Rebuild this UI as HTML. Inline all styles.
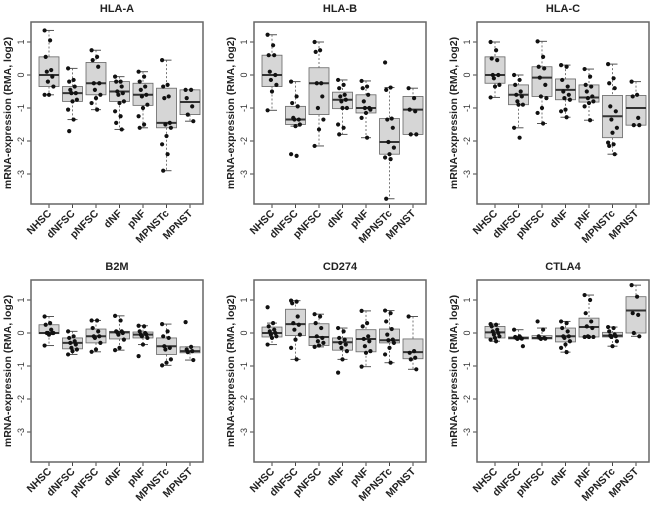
<!DOCTYPE html>
<html><head><meta charset="utf-8"><style>
body{margin:0;background:#fff;}
svg{display:block;font-family:"Liberation Sans",sans-serif;}
</style></head><body>
<svg id="fig" width="650" height="518" viewBox="0 0 650 518"></svg>
<script>
const categories=["NHSC","dNFSC","pNFSC","dNF","pNF","MPNSTc","MPNST"];
const genes=["HLA-A","HLA-B","HLA-C","B2M","CD274","CTLA4"];
const yTicks=[-3,-2,-1,0,1];
const statsHLAA=[[-0.6,-0.35,0,0.55,1.35],[-1.35,-0.8,-0.55,-0.35,0.2],[-1.05,-0.6,-0.25,0.38,0.75],[-1.65,-0.8,-0.5,-0.2,-0.05],[-1.6,-0.92,-0.6,-0.25,0.1],[-2.9,-1.6,-1.45,-0.4,0.45],[-1.4,-1.2,-0.82,-0.45,-0.45]];
const statsHLAB=[[-1.07,-0.35,0,0.6,1.22],[-1.55,-1.5,-1.35,-0.95,-0.2],[-2.15,-1.2,-0.25,0.22,1.0],[-1.8,-1.02,-0.75,-0.52,-0.15],[-1.9,-1.15,-1.0,-0.6,-0.18],[-3.75,-2.4,-2.03,-1.32,-0.38],[-1.8,-1.8,-1.05,-0.65,-0.4]];
const statsHLAC=[[-0.68,-0.25,0,0.55,1.0],[-1.6,-0.9,-0.6,-0.3,0],[-1.47,-0.65,-0.08,0.25,1.02],[-1.28,-0.75,-0.45,-0.12,0.3],[-1.37,-0.82,-0.68,-0.3,0.18],[-2.4,-1.9,-1.25,-0.62,0.33],[-1.52,-1.52,-1.0,-0.62,-0.2]];
const statsB2M=[[-0.38,-0.02,0,0.25,0.5],[-0.65,-0.48,-0.3,-0.15,0.05],[-0.57,-0.3,-0.1,0.12,0.38],[-0.52,-0.18,0.02,0.05,0.52],[-0.35,-0.15,-0.05,0.03,0.22],[-0.98,-0.65,-0.4,-0.15,0.27],[-0.82,-0.6,-0.55,-0.42,-0.42]];
const statsCD274=[[-0.35,-0.12,0,0.18,0.3],[-0.8,-0.08,0.27,0.72,0.98],[-0.42,-0.38,-0.12,0.28,0.57],[-0.8,-0.52,-0.28,-0.15,0.15],[-1.02,-0.57,-0.18,0.1,0.67],[-0.9,-0.3,-0.22,0.12,0.68],[-1.1,-0.78,-0.58,-0.18,0.5]];
const statsCTLA4=[[-0.25,-0.15,0.02,0.2,0.27],[-0.18,-0.18,-0.15,-0.12,0.1],[-0.18,-0.18,-0.15,-0.08,0.15],[-0.58,-0.27,-0.1,0.15,0.35],[-0.12,-0.12,0.18,0.45,1.15],[-0.4,-0.12,-0.08,0.02,0.18],[-0.1,0,0.68,1.1,1.45]];
const ptsHLAA=[[1.35,1.05,0.55,0.15,0.1,-0.05,-0.2,-0.35,-0.6,-0.6],[0.2,-0.15,-0.2,-0.35,-0.45,-0.55,-0.55,-0.75,-0.8,-1.05,-1.35,-1.7],[0.75,0.55,0.45,0.25,-0.25,-0.25,-0.45,-0.6,-0.7,-0.85,-1.05],[-0.05,-0.2,-0.2,-0.35,-0.5,-0.55,-0.6,-0.8,-0.85,-1.1,-1.25,-1.45,-1.65],[0.1,-0.05,-0.2,-0.35,-0.45,-0.6,-0.65,-0.9,-1.0,-1.25,-1.5,-1.6],[0.45,-0.3,-0.35,-0.65,-0.7,-1.45,-1.5,-1.6,-1.85,-2.1,-2.4,-2.9],[-0.45,-0.45,-0.7,-0.95,-1.2,-1.4]];
const ptsHLAB=[[1.22,0.9,0.6,0.6,0.1,0,-0.15,-0.3,-0.5,-1.07],[-0.2,-0.65,-0.85,-0.95,-1.3,-1.35,-1.35,-1.5,-1.55,-2.4,-2.45],[1.0,0.75,0.7,-0.25,-0.25,-0.65,-1.0,-1.35,-1.65,-2.15],[-0.15,-0.3,-0.4,-0.6,-0.65,-0.75,-0.8,-1.0,-1.0,-1.5,-1.6,-1.8],[-0.18,-0.35,-0.4,-0.6,-0.8,-1.0,-1.0,-1.05,-1.15,-1.3,-1.9],[0.38,-0.38,-0.45,-1.32,-1.35,-1.6,-2.03,-2.2,-2.4,-2.5,-2.55,-3.75],[-0.4,-0.7,-1.05,-1.1,-1.8,-1.8]];
const ptsHLAC=[[1.0,0.75,0.5,0.45,0,0,-0.1,-0.3,-0.35,-0.68],[0,-0.15,-0.3,-0.5,-0.6,-0.65,-0.8,-0.9,-0.9,-1.6,-1.9],[1.02,0.55,0.25,0.2,-0.08,-0.3,-0.65,-0.7,-1.0,-1.15,-1.47],[0.3,0.25,-0.15,-0.35,-0.5,-0.6,-0.7,-0.75,-1.05,-1.1,-1.28],[0.18,-0.05,-0.3,-0.35,-0.5,-0.65,-0.7,-0.8,-0.85,-0.95,-1.37],[0.33,-0.1,-0.25,-0.4,-0.95,-1.1,-1.35,-1.6,-1.75,-2.05,-2.1,-2.15,-2.4],[-0.2,-0.6,-0.65,-1.3,-1.52,-1.52]];
const ptsB2M=[[0.5,0.3,0.25,0.1,0,0,0,0,-0.05,-0.38],[0.05,-0.1,-0.15,-0.25,-0.3,-0.35,-0.45,-0.5,-0.55,-0.65],[0.38,0.38,0.15,0.05,-0.1,-0.1,-0.15,-0.3,-0.5,-0.57],[0.52,0.38,0.05,0.05,0.02,0,-0.05,-0.2,-0.45,-0.52],[0.22,0.2,0.05,0,-0.05,-0.05,-0.1,-0.15,-0.35,-0.7],[0.27,0.05,-0.1,-0.15,-0.4,-0.45,-0.5,-0.8,-0.9,-0.98],[0.33,-0.42,-0.5,-0.55,-0.58,-0.82]];
const ptsCD274=[[0.78,0.3,0.2,0.1,0.05,0,-0.05,-0.1,-0.15,-0.35],[0.98,0.95,0.9,0.5,0.3,0.25,0.1,-0.05,-0.2,-0.45,-0.8],[0.57,0.5,0.3,0.15,-0.1,-0.15,-0.25,-0.3,-0.38,-0.42],[0.15,0.05,-0.15,-0.2,-0.3,-0.35,-0.45,-0.55,-0.8,-1.2],[0.67,0.3,0.2,-0.1,-0.18,-0.25,-0.4,-0.55,-0.6,-1.02],[0.68,0.6,0.35,0.12,-0.05,-0.2,-0.22,-0.3,-0.45,-0.65,-0.9],[0.5,-0.55,-0.6,-0.75,-0.8,-1.1]];
const ptsCTLA4=[[0.27,0.25,0.2,0.1,0.05,0,-0.05,-0.1,-0.15,-0.2,-0.25],[0.1,-0.1,-0.12,-0.15,-0.15,-0.17,-0.18,-0.4],[0.35,0.1,-0.1,-0.15,-0.15,-0.17,-0.18],[0.35,0.3,0.15,0.05,-0.1,-0.1,-0.15,-0.25,-0.35,-0.45,-0.58],[1.15,1.0,0.6,0.35,0.2,0.15,-0.1,-0.12,-0.12,-0.12],[0.18,0.15,0.05,-0.05,-0.08,-0.1,-0.12,-0.25,-0.4],[1.45,1.1,0.6,0.55,0,-0.1]];

const allStats=[statsHLAA,statsHLAB,statsHLAC,statsB2M,statsCD274,statsCTLA4];
const allPts=[ptsHLAA,ptsHLAB,ptsHLAC,ptsB2M,ptsCD274,ptsCTLA4];
const NS="http://www.w3.org/2000/svg";
const svg=document.getElementById("fig");
function mk(tag,attrs,parent){const e=document.createElementNS(NS,tag);for(const k in attrs)e.setAttribute(k,attrs[k]);(parent||svg).appendChild(e);return e;}
const lefts=[31,254,477], tops=[22,280], W=172, H=182;
genes.forEach((g,gi)=>{
  const L=lefts[gi%3], T=tops[Math.floor(gi/3)];
  const yS=v=>T+53-v*33;
  const xS=i=>L+18+i*23.5;
  const grp=mk("g",{});
  
  
  const t=mk("text",{x:L+W/2,y:T-10,"text-anchor":"middle","font-size":"11","font-weight":"bold",fill:"#222"},grp);
  t.textContent=g;
  
  
  const yl=mk("text",{x:0,y:0,"text-anchor":"middle","font-size":"10.5","font-weight":"bold",fill:"#222",transform:`translate(${L-20},${T+H/2}) rotate(-90)`},grp);
  yl.textContent="mRNA-expression (RMA, log2)";
  
  
  yTicks.forEach(v=>{
    mk("line",{x1:L-4,x2:L,y1:yS(v),y2:yS(v),stroke:"#444"},grp);
    const tl=mk("text",{x:0,y:0,"text-anchor":"middle","font-size":"9",fill:"#333",transform:`translate(${L-7},${yS(v)}) rotate(-90)`},grp);
    tl.textContent=v;
    
    
  });
  categories.forEach((c,ci)=>{
    const x=xS(ci), s=allStats[gi][ci];
    mk("line",{x1:x,x2:x,y1:T+H,y2:T+H+4,stroke:"#444"},grp);
    const xl=mk("text",{x:0,y:0,"text-anchor":"end","font-size":"10.5","font-weight":"bold",fill:"#222",transform:`translate(${x+3},${T+H+10}) rotate(-45)`},grp);
    xl.textContent=c;
    
    
    mk("line",{x1:x,x2:x,y1:yS(s[4]),y2:yS(s[3]),stroke:"#777","stroke-dasharray":"2,2"},grp);
    mk("line",{x1:x,x2:x,y1:yS(s[1]),y2:yS(s[0]),stroke:"#777","stroke-dasharray":"2,2"},grp);
    mk("line",{x1:x-5,x2:x+5,y1:yS(s[4]),y2:yS(s[4]),stroke:"#555"},grp);
    mk("line",{x1:x-5,x2:x+5,y1:yS(s[0]),y2:yS(s[0]),stroke:"#555"},grp);
    const b=mk("rect",{x:x-10,y:yS(s[3]),width:20,height:Math.max(1,yS(s[1])-yS(s[3])),fill:"#d6d6d6",stroke:"#666","stroke-width":"0.8"},grp);
    
    
    mk("line",{x1:x-10,x2:x+10,y1:yS(s[2]),y2:yS(s[2]),stroke:"#333","stroke-width":"2"},grp);
    allPts[gi][ci].forEach((v,pi)=>{
      const jx=((pi*5)%9-4)*1.1;
      const p=mk("circle",{cx:x+jx,cy:yS(v),r:2.1,fill:"#111"},grp);
      
      
    });
  });
  const fr=mk("rect",{x:L,y:T,width:W,height:H,fill:"none",stroke:"#666","stroke-width":"1.5"},grp);
  
  
});
</script>
</body></html>
